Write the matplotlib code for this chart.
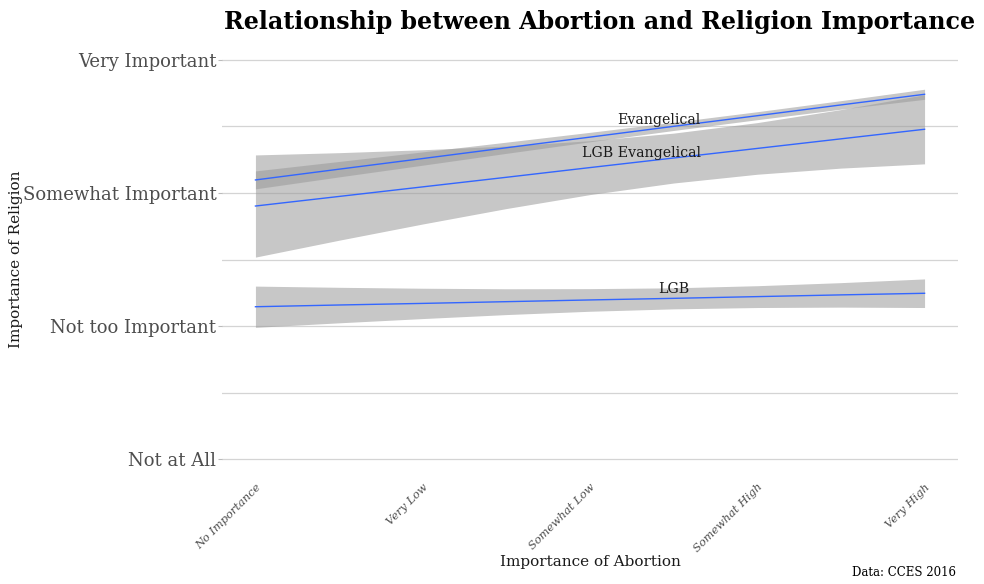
import matplotlib.pyplot as plt

# Abortion importance levels (x) and religion importance levels (y)
x_labels = ['No Importance', 'Very Low', 'Somewhat Low', 'Somewhat High', 'Very High']
y_labels = ['Not at All', 'Not too Important', 'Somewhat Important', 'Very Important']

# Points along the fitted lines where the fit and its confidence band are read
x_pos = [1, 1.5, 2, 2.5, 3, 3.5, 4, 4.5, 5]

# Evangelical
evan_fit = [3.098, 3.179, 3.259, 3.340, 3.420, 3.501, 3.581, 3.662, 3.742]
evan_hi = [3.166, 3.237, 3.309, 3.382, 3.456, 3.532, 3.611, 3.694, 3.780]
evan_lo = [3.031, 3.121, 3.209, 3.298, 3.385, 3.470, 3.551, 3.630, 3.704]

# LGB Evangelical
lgb_evan_fit = [2.902, 2.974, 3.046, 3.118, 3.191, 3.263, 3.335, 3.407, 3.479]
lgb_evan_hi = [3.286, 3.303, 3.325, 3.353, 3.393, 3.450, 3.529, 3.627, 3.739]
lgb_evan_lo = [2.518, 2.645, 2.767, 2.883, 2.988, 3.075, 3.141, 3.187, 3.219]

# LGB
lgb_fit = [2.145, 2.158, 2.170, 2.183, 2.196, 2.208, 2.221, 2.234, 2.246]
lgb_hi = [2.300, 2.291, 2.284, 2.280, 2.281, 2.287, 2.303, 2.326, 2.354]
lgb_lo = [1.990, 2.024, 2.056, 2.086, 2.111, 2.129, 2.139, 2.142, 2.139]

plt.rcParams['font.family'] = ['DejaVu Serif']

fig = plt.figure(figsize=(9.84, 5.84), dpi=100)
ax = fig.add_axes([0.2256, 0.1798, 0.748, 0.7517])

# Gridlines (major on the levels, minor half way between)
for y in [1, 1.5, 2, 2.5, 3, 3.5, 4]:
    ax.axhline(y, color='#d4d4d4', lw=0.9, zorder=0)

groups = [
    (evan_fit, evan_hi, evan_lo, 'Evangelical', 3.41, 3.55),
    (lgb_evan_fit, lgb_evan_hi, lgb_evan_lo, 'LGB Evangelical', 3.31, 3.30),
    (lgb_fit, lgb_hi, lgb_lo, 'LGB', 3.50, 2.28),
]
for fit, hi, lo, name, lx, ly in groups:
    ax.fill_between(x_pos, lo, hi, color='#999999', alpha=0.55, lw=0, zorder=1)
    ax.plot(x_pos, fit, color='#3366FF', lw=1.0, zorder=2)
    ax.text(lx, ly, name, ha='center', va='center', fontsize=10.2,
            color='#1a1a1a', zorder=3)

ax.set_xlim(0.8, 5.2)
ax.set_ylim(0.85, 4.15)
ax.set_xticks([1, 2, 3, 4, 5])
ax.set_xticklabels(x_labels, rotation=45, ha='right', rotation_mode='anchor',
                   fontsize=8.2, style='italic', color='#4d4d4d')
ax.set_yticks([1, 2, 3, 4])
ax.set_yticklabels(y_labels, fontsize=13, color='#4d4d4d')
ax.tick_params(axis='y', length=3, color='#bbbbbb', pad=1)
ax.tick_params(axis='x', length=0, pad=2)
for s in ax.spines.values():
    s.set_visible(False)

ax.set_xlabel('Importance of Abortion', fontsize=11, color='#1a1a1a')
ax.xaxis.set_label_coords(0.5, -0.174)
ax.set_ylabel('Importance of Religion', fontsize=11, color='#1a1a1a')
ax.yaxis.set_label_coords(-0.27, 0.5)

fig.text(0.2276, 0.962, 'Relationship between Abortion and Religion Importance',
         fontsize=17.1, fontweight='bold', ha='left', va='center')
fig.text(0.972, 0.008, 'Data: CCES 2016', fontsize=8.5, ha='right', va='bottom')

plt.savefig('out.png', dpi=100)
